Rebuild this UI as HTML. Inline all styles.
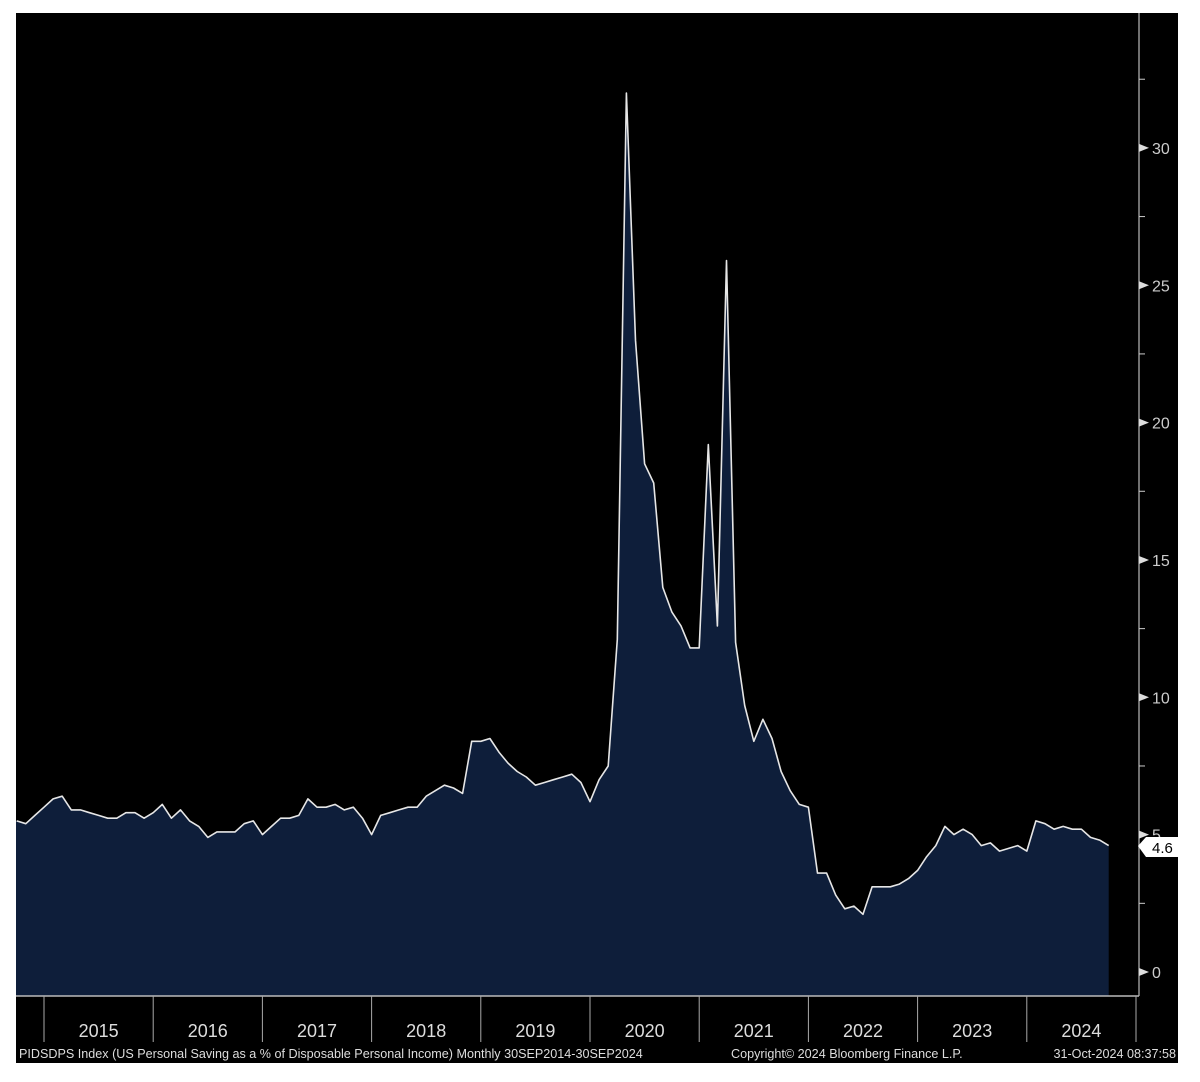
<!DOCTYPE html>
<html><head><meta charset="utf-8"><style>
html,body{margin:0;padding:0;background:#fff;width:1200px;height:1082px;overflow:hidden}
svg{display:block}
text{font-family:"Liberation Sans","DejaVu Sans",sans-serif}
</style></head><body>
<svg id="s" width="1200" height="1082" xmlns="http://www.w3.org/2000/svg">
<rect x="16" y="13" width="1162" height="1050" fill="#000"/>
<path id="area" fill="#0e1e3a" d=""/>
<path id="line" fill="none" stroke="#e6e6e6" stroke-width="1.6" stroke-linejoin="round" d=""/>
<line x1="1139" y1="13" x2="1139" y2="996" stroke="#bbb" stroke-width="1.2"/>
<line x1="16" y1="996" x2="1139" y2="996" stroke="#bbb" stroke-width="1.5"/>
<g id="yt"></g>
<g id="xt" fill="#ddd" font-size="18" text-anchor="middle"></g>
<g font-size="12.6" fill="#ddd">
<text x="19" y="1058">PIDSDPS Index (US Personal Saving as a % of Disposable Personal Income)  Monthly 30SEP2014-30SEP2024</text>
<text x="731" y="1058">Copyright© 2024 Bloomberg Finance L.P.</text>
<text x="1176" y="1058" text-anchor="end">31-Oct-2024 08:37:58</text>
</g>
<path d="M1138 846 L1146 837 L1178 837 L1178 857 L1146 857 Z" fill="#fff"/>
<text x="1152" y="853" font-size="15" fill="#000">4.6</text>
</svg>
<script>
var v=[5.5,5.4,5.7,6.0,6.3,6.4,5.9,5.9,5.8,5.7,5.6,5.6,5.8,5.8,5.6,5.8,6.1,5.6,5.9,5.5,5.3,4.9,5.1,5.1,5.1,5.4,5.5,5.0,5.3,5.6,5.6,5.7,6.3,6.0,6.0,6.1,5.9,6.0,5.6,5.0,5.7,5.8,5.9,6.0,6.0,6.4,6.6,6.8,6.7,6.5,8.4,8.4,8.5,8.0,7.6,7.3,7.1,6.8,6.9,7.0,7.1,7.2,6.9,6.2,7.0,7.5,12.1,32.0,23.0,18.5,17.8,14.0,13.1,12.6,11.8,11.8,19.2,12.6,25.9,12.0,9.7,8.4,9.2,8.5,7.3,6.6,6.1,6.0,3.6,3.6,2.8,2.3,2.4,2.1,3.1,3.1,3.1,3.2,3.4,3.7,4.2,4.6,5.3,5.0,5.2,5.0,4.6,4.7,4.4,4.5,4.6,4.4,5.5,5.4,5.2,5.3,5.2,5.2,4.9,4.8,4.6];
function X(i){return 16.7+i*9.1}function Y(a){return 972-a*27.47}
var d="";for(var i=0;i<v.length;i++){d+=(i?"L":"M")+X(i).toFixed(1)+" "+Y(v[i]).toFixed(1)+" ";}
document.getElementById("line").setAttribute("d",d);
document.getElementById("area").setAttribute("d","M16 996 L16 "+Y(v[0]).toFixed(1)+" "+d.replace(/^M/,"L")+"L"+X(v.length-1).toFixed(1)+" 996 Z");
var yt=document.getElementById("yt"),h="";
for(var t=0;t<=32.5;t+=2.5){var y=Y(t);
 if(t%5==0){h+='<path d="M1139 '+(y-4)+' L1149 '+y+' L1139 '+(y+4)+' Z" fill="#ddd"/>';
  h+='<text x="1152" y="'+(y+6)+'" font-size="16" fill="#ccc">'+t+'</text>';}
 else h+='<line x1="1139" x2="1145" y1="'+y+'" y2="'+y+'" stroke="#ccc"/>';}
yt.innerHTML=h;
var xh="";for(var k=0;k<=10;k++){var x=44+k*109.2;
 xh+='<line x1="'+x+'" x2="'+x+'" y1="996" y2="1042" stroke="#aaa" stroke-width="1"/>';
 if(k<10)xh+='<text x="'+(x+54.6)+'" y="1037">'+(2015+k)+'</text>';}
document.getElementById("xt").innerHTML=xh;
</script>
</body></html>
